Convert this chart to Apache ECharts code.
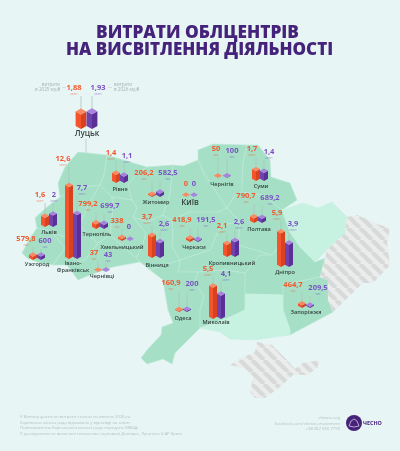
<!DOCTYPE html>
<html>
<head>
<meta charset="utf-8">
<style>html,body{margin:0;padding:0;background:#e8f5f5}#chart{width:400px;height:451px}</style>
<script src="https://cdn.jsdelivr.net/npm/echarts@6/dist/echarts.min.js"></script>
</head>
<body>
<div id="chart"></div>
<script>
// spending per city, thousands of UAH
const cities = ['Луцьк', 'Рівне', 'Житомир', 'Київ', 'Чернігів', 'Суми', 'Полтава', 'Кропивницький', 'Дніпро', 'Запоріжжя', 'Миколаїв', 'Одеса', 'Черкаси', 'Вінниця', 'Хмельницький', 'Тернопіль', 'Львів', 'Ужгород', 'Івано-\nФранківськ', 'Чернівці'];
const spend2025 = [1880, 1400, 206.2, 0, 50, 1700, 790.7, 2100, 5900, 464.7, 5500, 160.9, 418.9, 3700, 338, 799.2, 1600, 579.8, 12600, 37];
const spend2026 = [1930, 1100, 582.5, 0, 100, 1400, 689.2, 2600, 3900, 209.5, 4100, 200, 191.5, 2600, 0, 699.7, 2000, 600, 7700, 43];

// layout in page pixels: [red bar x, purple bar x, base y, red label x, red label y, purple label x, purple label y, name x, name y]
const places = [
    [81, 92, 129, 74, 88, 98, 88, 87, 134],
    [116, 124, 183, 111, 153, 127, 156, 120, 189],
    [152, 160, 197, 144, 173, 168, 173, 156, 202],
    [186, 194, 197, 186, 184, 194, 184, 190, 203],
    [218, 227, 178, 216, 149, 232, 151, 222, 184],
    [256, 264, 181, 252, 149, 269, 152, 261, 186],
    [254, 262, 223, 246, 196, 270, 198, 259, 229],
    [227, 235, 257, 222, 226, 239, 222, 232, 263],
    [281, 289, 267, 277, 213, 293, 224, 285, 272],
    [302, 310, 308, 293, 285, 318, 288, 306, 312],
    [213, 221, 319, 208, 269, 226, 274, 216, 322],
    [179, 187, 312, 171, 283, 192, 284, 183, 318],
    [190, 198, 242, 182, 220, 206, 220, 194, 247],
    [152, 160, 258, 147, 217, 164, 224, 157, 265],
    [122, 130, 241, 117, 221, 129, 227, 122, 247],
    [96, 104, 229, 88, 204, 110, 206, 97, 234],
    [45, 53, 227, 40, 195, 54, 195, 49, 232],
    [33, 41, 260, 26, 239, 45, 241, 37, 264],
    [69, 77, 259, 63, 159, 82, 188, 73, 267],
    [98, 106, 272, 94, 253, 108, 255, 102, 276]
];

const regionShapes = {
    Volyn: [[78,152],[107,155],[104,175],[100,185],[76,188],[60,197],[58,183],[65,167]],
    Rivne: [[107,155],[117,158],[130,162],[147,167],[137,173],[128,185],[132,200],[112,197],[100,185],[104,175]],
    Lviv: [[60,197],[76,188],[100,185],[88,205],[80,225],[72,240],[52,232],[37,228],[35,218],[47,207]],
    Ternopil: [[100,185],[112,197],[113,208],[110,235],[98,243],[86,233],[80,225],[88,205]],
    Khmelnytskyi: [[112,197],[132,200],[137,208],[133,217],[146,233],[142,247],[136,258],[110,235],[113,208]],
    Zakarpattia: [[37,228],[52,232],[65,248],[53,265],[40,263],[27,258],[22,253],[30,238]],
    Ivano: [[52,232],[72,240],[80,225],[86,233],[98,243],[85,260],[67,265],[53,265],[65,248]],
    Chernivtsi: [[85,260],[98,243],[110,235],[136,258],[140,262],[113,267],[90,275],[78,280],[67,265]],
    Vinnytsia: [[133,217],[147,222],[163,215],[172,220],[173,237],[172,247],[180,260],[150,270],[140,262],[136,258],[142,247],[146,233]],
    Zhytomyr: [[147,167],[173,165],[172,175],[170,195],[163,215],[147,222],[133,217],[137,208],[132,200],[128,185],[137,173]],
    Kyiv: [[173,165],[183,166],[198,160],[205,175],[215,190],[227,208],[218,212],[190,212],[172,220],[163,215],[170,195],[172,175]],
    Chernihiv: [[198,150],[213,144],[247,145],[243,163],[242,183],[242,192],[235,195],[227,208],[215,190],[205,175],[198,160]],
    Sumy: [[247,145],[258,145],[270,160],[271,177],[290,183],[297,200],[282,210],[263,195],[242,192],[242,183],[243,163]],
    Poltava: [[227,208],[235,195],[242,192],[263,195],[282,210],[290,232],[272,255],[238,245],[240,222]],
    Cherkasy: [[172,220],[190,212],[218,212],[227,208],[240,222],[222,225],[215,238],[210,250],[180,260],[172,247],[173,237]],
    Kirovohrad: [[180,260],[210,250],[215,238],[222,225],[240,222],[238,245],[272,255],[260,255],[245,273],[225,270],[198,272],[178,272]],
    Odesa: [[150,270],[180,260],[178,272],[198,272],[195,283],[204,296],[200,310],[200,328],[175,353],[172,364],[163,359],[147,364],[141,358],[147,350],[161,335],[162,327],[173,323],[168,310],[165,293],[163,280]],
    Mykolaiv: [[198,272],[225,270],[245,273],[245,310],[228,318],[200,328],[200,310],[204,296],[195,283]],
    Dnipro: [[245,273],[260,255],[272,255],[290,232],[300,247],[315,262],[325,258],[320,277],[283,285],[283,295],[245,294]],
    Zaporizhzhia: [[283,285],[320,277],[328,280],[328,300],[333,312],[290,335],[290,330],[283,310]],
    Kherson: [[245,294],[283,295],[283,310],[290,330],[290,335],[275,337],[255,340],[230,339],[220,332],[200,328],[228,318],[245,310]],
    Kharkiv: [[282,210],[303,203],[318,208],[332,202],[347,217],[345,233],[327,250],[315,262],[300,247],[290,232]],
    Donbas: [[347,217],[357,215],[380,225],[390,228],[387,243],[390,265],[373,283],[363,283],[333,312],[328,300],[328,280],[320,277],[325,258],[327,250],[345,233]],
    Crimea: [[257,342],[272,345],[287,360],[295,369],[303,363],[320,360],[317,368],[308,375],[293,375],[280,387],[265,398],[255,398],[250,392],[253,377],[243,368],[230,365],[242,358],[255,352]]
};

const lightRegions = ['Kharkiv', 'Kherson'];
const hatchedRegions = ['Donbas', 'Crimea'];

const fontName = '"Open Sans", sans-serif';
const pxPerThousand = 0.0057;
const barColors = [
    { left: '#f4532b', right: '#d9421f', top: '#f98a63', text: '#f0592f' },
    { left: '#6f42b0', right: '#5a2f96', top: '#a982de', text: '#7a52c4' }
];

const geoJson = {
    type: 'FeatureCollection',
    features: Object.keys(regionShapes).map((name) => ({
        type: 'Feature',
        properties: { name },
        geometry: { type: 'Polygon', coordinates: [[...regionShapes[name], regionShapes[name][0]]] }
    }))
};
echarts.registerMap('ua', geoJson);

function stripes() {
    const c = document.createElement('canvas');
    c.width = 12;
    c.height = 12;
    const ctx = c.getContext('2d');
    ctx.fillStyle = '#ebeded';
    ctx.fillRect(0, 0, 12, 12);
    ctx.strokeStyle = '#d8dada';
    ctx.lineWidth = 4.2;
    for (let i = -12; i <= 24; i += 12) {
        ctx.beginPath();
        ctx.moveTo(i, 0);
        ctx.lineTo(i + 12, 12);
        ctx.stroke();
    }
    return c;
}

function formatValue(v) {
    if (v >= 1000) return String(v / 1000).replace('.', ',');
    return String(v).replace('.', ',');
}

function unitOf(v) {
    if (v === 0) return '';
    return v >= 1000 ? 'млн' : 'тис';
}

function drawBar(api, x, baseY, value, labelX, labelY, colors, scale) {
    const p = api.coord([x, baseY]);
    const hw = 4 * scale;
    const hh = 2.2 * scale;
    const h = value * pxPerThousand * scale;
    const cx = p[0];
    const by = p[1] - hh;      // centre of the bottom diamond
    const ty = by - h;         // centre of the top diamond
    const lab = api.coord([labelX, labelY]);
    const kids = [
        { type: 'line', shape: { x1: cx, y1: lab[1] + 8, x2: cx, y2: ty }, style: { stroke: '#a9c5bb', lineWidth: 0.8 } },
        { type: 'polygon', shape: { points: [[cx - hw, ty], [cx, ty + hh], [cx, by + hh], [cx - hw, by]] }, style: { fill: colors.left } },
        { type: 'polygon', shape: { points: [[cx, ty + hh], [cx + hw, ty], [cx + hw, by], [cx, by + hh]] }, style: { fill: colors.right } },
        { type: 'polygon', shape: { points: [[cx - hw, ty], [cx, ty - hh], [cx + hw, ty], [cx, ty + hh]] }, style: { fill: colors.top } },
        {
            type: 'text',
            style: {
                x: lab[0], y: lab[1], text: formatValue(value), fill: colors.text,
                font: 'bold 7.5px ' + fontName, align: 'center', verticalAlign: 'middle'
            }
        },
        {
            type: 'text',
            style: {
                x: lab[0], y: lab[1] + 5.5, text: unitOf(value), fill: colors.text, opacity: 0.65,
                font: '3.5px ' + fontName, align: 'center', verticalAlign: 'middle'
            }
        }
    ];
    return kids;
}

const chart = echarts.init(document.getElementById('chart'), null, { renderer: 'canvas' });

const option = {
    backgroundColor: '#e8f5f5',
    animation: false,
    geo: {
        map: 'ua',
        left: 0,
        top: 0,
        width: 400,
        height: 451,
        boundingCoords: [[0, 0], [400, 451]],
        projection: { project: (p) => p, unproject: (p) => p },
        silent: true,
        label: { show: false },
        itemStyle: { areaColor: '#a5e0c6', borderColor: '#bde9d8', borderWidth: 0.6 },
        regions: [
            ...lightRegions.map((name) => ({ name, itemStyle: { areaColor: '#c7f1e1', borderColor: '#c7f1e1' } })),
            ...hatchedRegions.map((name) => ({
                name,
                itemStyle: { areaColor: { image: stripes(), repeat: 'repeat' }, borderWidth: 0 }
            }))
        ]
    },
    series: [
        {
            type: 'custom',
            coordinateSystem: 'geo',
            silent: true,
            data: cities.map((c, i) => [places[i][0], places[i][2], i]),
            renderItem: (params, api) => {
                const i = api.value(2);
                const pl = places[i];
                const scale = i === 0 ? 1.35 : 1;
                return {
                    type: 'group',
                    children: [
                        ...drawBar(api, pl[0], pl[2], spend2025[i], pl[3], pl[4], barColors[0], scale),
                        ...drawBar(api, pl[1], pl[2], spend2026[i], pl[5], pl[6], barColors[1], scale)
                    ]
                };
            }
        },
        {
            type: 'custom',
            coordinateSystem: 'geo',
            silent: true,
            data: cities.map((c, i) => [places[i][7], places[i][8], i]),
            renderItem: (params, api) => {
                const i = api.value(2);
                const p = api.coord([api.value(0), api.value(1)]);
                const big = i === 0 || i === 3;
                return {
                    type: 'text',
                    style: {
                        x: p[0], y: p[1], text: cities[i], fill: '#33413e', align: 'center', verticalAlign: 'middle',
                        font: (big ? '600 8px ' : '600 5.6px ') + fontName, lineHeight: 7.5
                    }
                };
            }
        }
    ],
    graphic: [
        { type: 'text', x: 96, y: 33, scaleX: 1.015, style: { text: 'ВИТРАТИ ОБЛЦЕНТРІВ', fill: '#46237a', font: '800 17px ' + fontName, verticalAlign: 'middle' } },
        { type: 'text', x: 66, y: 50, scaleX: 1, style: { text: 'НА ВИСВІТЛЕННЯ ДІЯЛЬНОСТІ', fill: '#46237a', font: '800 17px ' + fontName, verticalAlign: 'middle' } },
        { type: 'line', shape: { x1: 86, y1: 139, x2: 86, y2: 172 }, style: { stroke: '#9fc0b5', lineWidth: 0.6 } },
        { type: 'circle', shape: { cx: 86, cy: 173, r: 0.8 }, style: { fill: '#6d8f85' } },
        { type: 'text', style: { x: 60, y: 85, text: 'витрати', fill: '#a6b4b4', font: '4.6px ' + fontName, align: 'right', verticalAlign: 'middle' } },
        { type: 'text', style: { x: 60, y: 90, text: 'в 2025 му,₴', fill: '#a6b4b4', font: '4.6px ' + fontName, align: 'right', verticalAlign: 'middle' } },
        { type: 'line', shape: { x1: 62, y1: 87.5, x2: 66, y2: 87.5 }, style: { stroke: '#c0cccc', lineWidth: 0.5 } },
        { type: 'line', shape: { x1: 108, y1: 87.5, x2: 112, y2: 87.5 }, style: { stroke: '#c0cccc', lineWidth: 0.5 } },
        { type: 'text', style: { x: 114, y: 85, text: 'витрати', fill: '#a6b4b4', font: '4.6px ' + fontName, align: 'left', verticalAlign: 'middle' } },
        { type: 'text', style: { x: 114, y: 90, text: 'в 2026 му,₴', fill: '#a6b4b4', font: '4.6px ' + fontName, align: 'left', verticalAlign: 'middle' } },
        { type: 'text', style: { x: 316, y: 230, text: 'Харків', fill: '#33413e', font: '600 5.6px ' + fontName, align: 'center', verticalAlign: 'middle' } },
        { type: 'text', style: { x: 259, y: 319, text: 'Херсон', fill: '#33413e', font: '600 5.6px ' + fontName, align: 'center', verticalAlign: 'middle' } },
        { type: 'text', style: { x: 20, y: 417, text: 'У Вінниці фактичні витрати станом на квітень 2026-го.', fill: '#b4c2c2', font: '4.2px ' + fontName, verticalAlign: 'middle' } },
        { type: 'text', style: { x: 20, y: 422.5, text: 'Харківська міська рада відмовила у відповіді на запит.', fill: '#b4c2c2', font: '4.2px ' + fontName, verticalAlign: 'middle' } },
        { type: 'text', style: { x: 20, y: 428, text: 'Повноваження Херсонської міської ради передано МВЦА.', fill: '#b4c2c2', font: '4.2px ' + fontName, verticalAlign: 'middle' } },
        { type: 'text', style: { x: 20, y: 433.5, text: 'У дослідження не включені тимчасово окуповані Донецьк, Луганськ й АР Крим.', fill: '#b4c2c2', font: '4.2px ' + fontName, verticalAlign: 'middle' } },
        { type: 'text', style: { x: 340, y: 418, text: 'chesno.org', fill: '#b4c2c2', font: '4.2px ' + fontName, align: 'right', verticalAlign: 'middle' } },
        { type: 'text', style: { x: 340, y: 423.5, text: 'facebook.com/chesno.movement', fill: '#b4c2c2', font: '4.2px ' + fontName, align: 'right', verticalAlign: 'middle' } },
        { type: 'text', style: { x: 340, y: 429, text: '+38 067 656 7799', fill: '#b4c2c2', font: '4.2px ' + fontName, align: 'right', verticalAlign: 'middle' } },
        { type: 'circle', shape: { cx: 354, cy: 423, r: 8 }, style: { fill: '#46237a' } },
        { type: 'polyline', shape: { points: [[349, 426], [351, 421], [354, 419], [357, 421], [359, 426], [354, 427], [349, 426]] }, style: { fill: 'none', stroke: '#ffffff', lineWidth: 0.6 } },
        { type: 'text', style: { x: 363, y: 423, text: 'ЧЕСНО', fill: '#46237a', font: 'bold 5.4px ' + fontName, verticalAlign: 'middle' } }
    ]
};

chart.setOption(option);
</script>
</body>
</html>
